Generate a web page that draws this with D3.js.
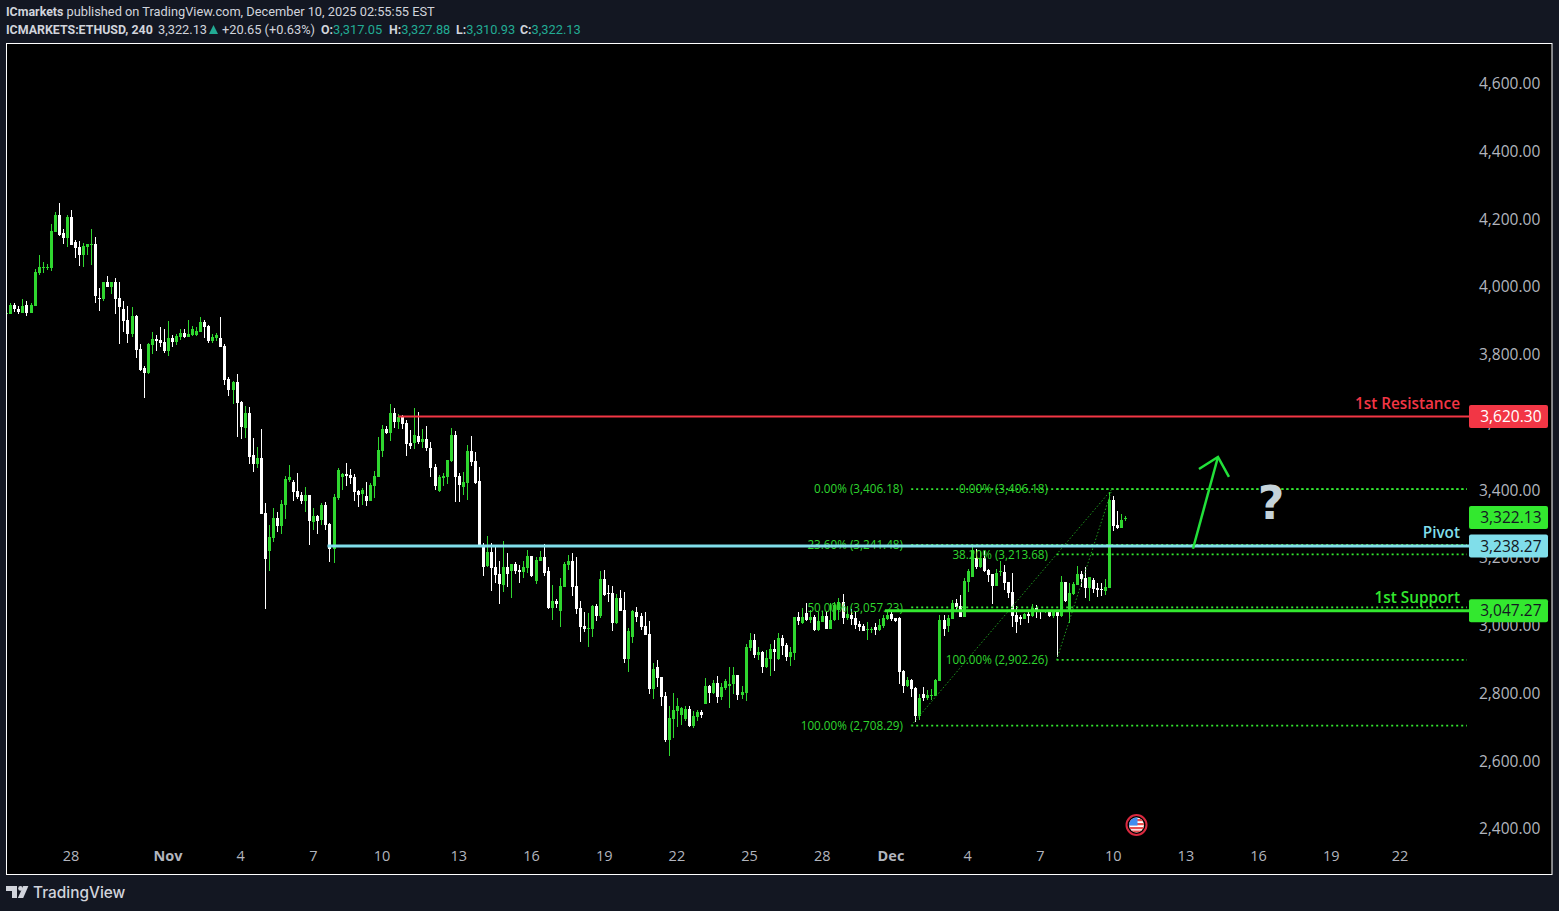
<!DOCTYPE html>
<html>
<head>
<meta charset="utf-8">
<script src="https://cdn.jsdelivr.net/npm/d3@7"></script>
<style>
  html, body { margin: 0; padding: 0; background: #131722; overflow: hidden; }
  svg { font-family: Roboto, "Noto Sans", sans-serif; }
</style>
</head>
<body>
<svg id="vis" width="1559" height="911"></svg>
<script>
// 4h ETHUSD bars
const firstBar = Date.UTC(2025, 9, 25, 8);
const barHours = 4;

const opens = [3925,
  3923,3949,3937,3926,3950,3926,3947,4044,4059,4059,
  4059,4165,4216,4162,4148,4210,4136,4121,4098,4121,
  4127,4130,3971,3968,4018,4003,4018,3971,3938,3906,
  3864,3917,3820,3764,3749,3832,3850,3847,3841,3814,
  3852,3841,3855,3867,3855,3861,3861,3870,3900,3888,
  3844,3852,3852,3829,3731,3699,3723,3664,3587,3631,
  3507,3481,3498,3336,3224,3262,3321,3298,3360,3433,
  3427,3401,3389,3371,3389,3309,3327,3315,3360,3303,
  3230,3380,3442,3451,3448,3442,3401,3392,3386,3371,
  3416,3442,3519,3584,3572,3631,3605,3619,3602,3543,
  3543,3563,3546,3554,3528,3472,3401,3439,3442,3489,
  3566,3445,3413,3424,3519,3489,3430,3239,3180,3221,
  3177,3156,3124,3177,3165,3186,3168,3162,3174,3209,
  3135,3194,3206,3165,3056,3076,3047,3118,3183,3194,
  3121,3056,3003,2994,2994,3062,3032,3141,3100,3100,
  3011,3085,3050,2905,2970,3044,3032,3003,2979,2817,
  2882,2852,2796,2666,2728,2752,2740,2728,2757,2707,
  2734,2749,2772,2825,2805,2834,2793,2819,2825,2831,
  2858,2799,2805,2938,2961,2917,2926,2882,2905,2935,
  2905,2967,2946,2911,2923,3029,3011,3041,3020,3029,
  2991,3014,3032,2994,3020,3050,3073,3026,3035,3026,
  3008,3003,2991,2991,2999,2991,3003,3023,3038,3026,
  3026,2870,2825,2843,2819,2737,2802,2790,2796,2796,
  2840,3020,3002,3023,3070,3061,3029,3132,3147,3203,
  3177,3203,3168,3156,3121,3162,3162,3132,3103,3035,
  3029,3023,3038,3032,3056,3047,3044,3044,3032,3047,
  3032,3132,3050,3097,3123,3156,3144,3115,3138,3115,
  3112,3106,3115,3374,3301,3292,3317];

const highs = [3926,
  3955,3955,3946,3968,3962,3956,4056,4098,4077,4071,
  4189,4224,4251,4174,4216,4230,4142,4139,4133,4130,
  4174,4151,4000,4018,4035,4018,4030,4018,3962,3947,
  3944,3920,3835,3770,3838,3870,3861,3885,3879,3903,
  3861,3864,3879,3879,3906,3888,3885,3914,3906,3891,
  3864,3867,3914,3835,3737,3726,3746,3667,3652,3649,
  3557,3531,3584,3365,3301,3351,3339,3374,3445,3478,
  3433,3454,3398,3413,3389,3351,3330,3365,3368,3306,
  3392,3469,3454,3484,3466,3451,3404,3410,3427,3424,
  3460,3560,3596,3593,3658,3646,3628,3625,3610,3581,
  3646,3634,3584,3593,3546,3481,3448,3454,3492,3587,
  3578,3454,3457,3537,3563,3516,3472,3248,3268,3248,
  3239,3194,3253,3218,3186,3191,3183,3194,3227,3209,
  3206,3224,3245,3177,3124,3082,3144,3191,3212,3218,
  3206,3076,3044,3041,3065,3068,3165,3168,3124,3121,
  3097,3109,3103,2997,3050,3059,3041,3044,3017,2893,
  2902,2852,2808,2766,2805,2790,2763,2766,2766,2752,
  2755,2755,2849,2828,2843,2855,2834,2846,2881,2881,
  2858,2825,2949,2982,2979,2941,2929,2932,2949,2961,
  2982,2976,2952,2941,3029,3044,3056,3070,3050,3035,
  3044,3047,3047,3070,3073,3085,3097,3062,3053,3044,
  3017,3008,3014,2999,3011,3023,3035,3044,3044,3026,
  3029,2873,2852,2846,2822,2802,2822,2814,2817,2846,
  3035,3035,3035,3079,3082,3094,3144,3171,3241,3230,
  3224,3224,3171,3156,3171,3194,3182,3132,3159,3061,
  3035,3041,3047,3067,3064,3050,3050,3050,3050,3047,
  3150,3132,3129,3132,3180,3165,3177,3147,3144,3129,
  3129,3141,3398,3386,3342,3333,3328];

const lows = [3924,
  3923,3928,3923,3925,3917,3926,3947,4038,4044,4053,
  4050,4165,4154,4130,4121,4127,4089,4065,4062,4098,
  4068,3956,3932,3962,4003,3982,3923,3835,3870,3838,
  3855,3793,3755,3675,3746,3805,3814,3826,3808,3799,
  3826,3832,3847,3852,3855,3858,3858,3870,3852,3838,
  3838,3844,3826,3714,3681,3658,3560,3554,3557,3481,
  3457,3469,3333,3053,3165,3250,3280,3274,3318,3427,
  3371,3377,3362,3339,3242,3286,3274,3301,3286,3191,
  3188,3374,3404,3416,3422,3371,3354,3360,3357,3371,
  3380,3442,3501,3569,3548,3587,3584,3584,3504,3525,
  3525,3540,3528,3519,3442,3404,3398,3416,3422,3486,
  3368,3368,3389,3374,3475,3422,3236,3150,3177,3106,
  3129,3067,3103,3118,3085,3156,3129,3144,3159,3147,
  3126,3194,3150,3053,3020,3056,2999,3118,3168,3091,
  3038,2955,2985,2941,2970,3017,3026,3091,3073,2988,
  3008,3047,2893,2867,2952,3014,2991,2976,2802,2787,
  2822,2766,2660,2619,2672,2704,2710,2722,2704,2701,
  2722,2731,2772,2775,2802,2775,2784,2814,2760,2802,
  2784,2787,2781,2929,2908,2902,2864,2879,2855,2870,
  2902,2917,2899,2884,2902,3005,3008,3017,3011,2988,
  2988,3014,2994,2994,3016,3020,3008,3020,3005,2994,
  2988,2988,2961,2982,2976,2988,2997,3020,3017,3014,
  2831,2805,2822,2793,2719,2725,2781,2784,2784,2796,
  2840,2973,2985,3023,3044,3029,3029,3103,3147,3171,
  3174,3162,3132,3067,3121,3150,3109,3085,2999,2982,
  3005,3023,3011,3029,3026,3023,3041,3029,3026,2911,
  3029,3073,3011,3094,3123,3118,3085,3076,3100,3088,
  3091,3094,3115,3283,3289,3292,3311];

const closes = [3925,
  3950,3937,3929,3947,3925,3950,4047,4062,4062,4062,
  4168,4216,4157,4148,4210,4127,4118,4098,4124,4130,
  4130,3976,3968,4018,4003,4018,3968,3944,3903,3864,
  3917,3817,3758,3749,3835,3850,3844,3838,3814,3852,
  3841,3858,3867,3855,3864,3879,3873,3900,3885,3844,
  3855,3861,3826,3728,3699,3723,3661,3590,3631,3501,
  3481,3498,3333,3200,3265,3321,3298,3362,3436,3442,
  3398,3383,3371,3389,3312,3327,3312,3360,3301,3230,
  3383,3463,3451,3445,3439,3398,3389,3404,3371,3419,
  3445,3522,3584,3572,3631,3605,3619,3599,3540,3534,
  3566,3546,3554,3528,3469,3416,3442,3445,3492,3566,
  3442,3419,3427,3519,3487,3424,3239,3177,3221,3174,
  3153,3126,3177,3156,3186,3165,3162,3177,3209,3150,
  3197,3206,3159,3056,3076,3067,3121,3186,3194,3118,
  3053,2999,2994,2997,3062,3032,3141,3094,3097,3011,
  3085,3047,2905,2988,3047,3029,2999,2976,2817,2876,
  2849,2793,2666,2731,2755,2766,2760,2757,2707,2737,
  2749,2740,2825,2805,2834,2793,2822,2840,2831,2858,
  2799,2808,2940,2961,2917,2926,2882,2908,2935,2926,
  2967,2943,2911,2926,3029,3017,3029,3020,3029,2991,
  3017,3032,2994,3020,3065,3073,3026,3038,3023,3005,
  2999,2988,2994,2994,2991,3005,3026,3035,3023,3017,
  2867,2825,2843,2817,2737,2790,2790,2799,2799,2843,
  3020,2994,3026,3070,3058,3029,3135,3165,3227,3177,
  3203,3165,3153,3121,3159,3165,3129,3100,3032,3014,
  3023,3038,3032,3056,3044,3044,3047,3032,3044,3032,
  3132,3076,3100,3126,3156,3141,3115,3147,3112,3109,
  3109,3118,3374,3298,3292,3315,3322];

const priceTicks = [2400,2600,2800,3000,3200,3400,3600,3800,4000,4200,4400,4600];
const timeTickDates = ['2025-10-28','2025-11-01','2025-11-04','2025-11-07','2025-11-09T20:00','2025-11-13','2025-11-16','2025-11-19','2025-11-22','2025-11-25','2025-11-28','2025-11-30T20:00','2025-12-04','2025-12-07','2025-12-10','2025-12-13','2025-12-16','2025-12-19','2025-12-21T20:00'];
const timeTickLabels = ['28','Nov','4','7','10','13','16','19','22','25','28','Dec','4','7','10','13','16','19','22'];

const levelNames = ['1st Resistance','Pivot','1st Support'];
const levelPrices = [3620.30,3238.27,3047.27];
const levelStarts = ['2025-11-10T12:00','2025-11-07T14:00','2025-11-30T14:00'];
const levelColors = ['#f23645','#80deea','#33e82f'];

const fibLabels = ['0.00%','23.60%','50.00%','100.00%','0.00%','38.20%','100.00%'];
const fibPrices = [3406.18,3241.48,3057.23,2708.29,3406.18,3213.68,2902.26];
const fibStarts = ['2025-12-01T16:00','2025-12-01T16:00','2025-12-01T16:00','2025-12-01T16:00','2025-12-07T16:00','2025-12-07T16:00','2025-12-07T16:00'];

const arrowDates = ['2025-12-13T07:00','2025-12-14T07:45'];
const arrowPrices = [3230,3501];

const green = '#2fd62f';
const fibGreen = '#33e82f';
const parseDate = d => new Date(d.length > 10 ? d + ':00Z' : d + 'T00:00:00Z');
const fmt = d3.format(',.2f');

const dates = opens.map((d, i) => d3.utcHour.offset(new Date(firstBar), i * barHours));
const bars = opens.map((o, i) => ({date: dates[i], o, h: highs[i], l: lows[i], c: closes[i]}));

const x = d3.scaleUtc().domain([dates[0], dates[dates.length - 1]]).range([6.3, 1125.3]);
const y = d3.scaleLinear().domain([2400, 4600]).range([830, 84.6]);

const vis = d3.select('#vis');
const paneRight = 1552, paneLeft = 6.5, paneTop = 43.5, paneBottom = 874.5;

// header
const head = vis.append('g').attr('fill', '#d1d4dc').attr('font-size', 12.8);
const row1 = head.append('text').attr('x', 6).attr('y', 16);
row1.append('tspan').attr('font-weight', 700).attr('font-size', 12.4).text('ICmarkets');
row1.append('tspan').text(' published on TradingView.com, December 10, 2025 02:55:55 EST');
head.append('text').attr('x', 6).attr('y', 34).attr('font-weight', 700).attr('font-size', 12.4).text('ICMARKETS:ETHUSD, 240');
head.append('text').attr('x', 158).attr('y', 34).text('3,322.13');
head.append('path').attr('d', 'M209 34 L218 34 L213.5 25 Z').attr('fill', '#22ab94');
head.append('text').attr('x', 222).attr('y', 34).text('+20.65 (+0.63%)');
[['O:', '3,317.05', 321], ['H:', '3,327.88', 389], ['L:', '3,310.93', 456], ['C:', '3,322.13', 520]].forEach(d => {
  const t = head.append('text').attr('x', d[2]).attr('y', 34);
  t.append('tspan').attr('font-weight', 700).attr('font-size', 12.4).text(d[0]);
  t.append('tspan').attr('fill', '#22ab94').text(d[1]);
});

// pane
vis.append('rect').attr('x', paneLeft).attr('y', paneTop)
  .attr('width', paneRight - paneLeft).attr('height', paneBottom - paneTop)
  .attr('fill', '#000').attr('stroke', '#fff').attr('stroke-width', 1);
vis.append('clipPath').attr('id', 'paneClip').append('rect')
  .attr('x', 7).attr('y', 44).attr('width', paneRight - 7).attr('height', 830);

// axes
const yAxis = vis.append('g').attr('transform', 'translate(1477,-1)')
  .call(d3.axisRight(y).tickValues(priceTicks).tickFormat(fmt).tickSize(0).tickPadding(2));
yAxis.select('.domain').remove();
yAxis.selectAll('text').attr('fill', '#b2b5be').attr('font-size', 15.5).attr('font-family', '"Open Sans"');

const xAxis = vis.append('g').attr('transform', 'translate(-0.5,851)')
  .call(d3.axisBottom(x).tickValues(timeTickDates.map(parseDate)).tickFormat((d, i) => timeTickLabels[i]).tickSize(0).tickPadding(0));
xAxis.select('.domain').remove();
xAxis.selectAll('text').attr('fill', '#b2b5be').attr('font-size', 14.5).attr('font-family', '"Open Sans"')
  .attr('font-weight', (d, i) => timeTickLabels[i] === 'Nov' || timeTickLabels[i] === 'Dec' ? 700 : 400);

// candles
const candles = vis.append('g').attr('clip-path', 'url(#paneClip)').attr('shape-rendering', 'crispEdges');
const barColor = d => d.c >= d.o ? green : '#fff';
candles.selectAll('rect.wick').data(bars).enter().append('rect').classed('wick', true)
  .attr('x', d => Math.round(x(d.date)))
  .attr('y', d => y(d.h))
  .attr('width', 1)
  .attr('height', d => y(d.l) - y(d.h))
  .attr('fill', barColor);
candles.selectAll('rect.body').data(bars).enter().append('rect').classed('body', true)
  .attr('x', d => Math.round(x(d.date)) - 1)
  .attr('y', d => y(Math.max(d.o, d.c)))
  .attr('width', 3)
  .attr('height', d => Math.max(1, Math.abs(y(d.o) - y(d.c))))
  .attr('fill', barColor);

// fib drawings
vis.append('g').selectAll('line').data(fibPrices).enter().append('line')
  .attr('x1', (d, i) => x(parseDate(fibStarts[i])))
  .attr('x2', 1467)
  .attr('y1', d => y(d)).attr('y2', d => y(d))
  .attr('stroke', fibGreen).attr('stroke-width', 1.8).attr('stroke-dasharray', '2 3');

const diagonals = [
  [fibPrices[3], fibStarts[3], fibPrices[0]],
  [fibPrices[6], fibStarts[6], fibPrices[4]]
];
vis.append('g').selectAll('line').data(diagonals).enter().append('line')
  .attr('x1', d => x(parseDate(d[1])))
  .attr('y1', d => y(d[0]))
  .attr('x2', 1112)
  .attr('y2', d => y(d[2]))
  .attr('stroke', '#1f9a1f').attr('stroke-width', 1).attr('stroke-dasharray', '1.5 2');

vis.append('g').selectAll('text').data(fibPrices).enter().append('text')
  .attr('x', (d, i) => i < 4 ? 903 : 1048)
  .attr('y', d => y(d))
  .attr('dy', '.36em')
  .attr('text-anchor', 'end')
  .attr('fill', '#2fd62f')
  .attr('font-size', 11.7)
  .attr('font-family', '"Open Sans"')
  .text((d, i) => `${fibLabels[i]} (${fmt(d)})`);

// support / resistance lines
const levels = vis.append('g');
levels.selectAll('line').data(levelPrices).enter().append('line')
  .attr('x1', (d, i) => x(parseDate(levelStarts[i])))
  .attr('x2', 1469)
  .attr('y1', d => y(d)).attr('y2', d => y(d))
  .attr('stroke', (d, i) => levelColors[i])
  .attr('stroke-width', (d, i) => i === 0 ? 2 : 3);
levels.selectAll('text').data(levelPrices).enter().append('text')
  .attr('x', 1460)
  .attr('y', d => y(d) - 13)
  .attr('dy', '.36em')
  .attr('text-anchor', 'end')
  .attr('fill', (d, i) => levelColors[i])
  .attr('font-size', 15.3)
  .attr('font-weight', 600)
  .attr('font-family', '"Open Sans"')
  .text((d, i) => levelNames[i]);

// price tags
const tagPrices = [levelPrices[0], closes[closes.length - 1] + 0.13, levelPrices[1], levelPrices[2]];
const tagFills = [levelColors[0], '#33e82f', levelColors[1], levelColors[2]];
const tagText = ['#fff', '#131722', '#131722', '#131722'];
const tags = vis.append('g').selectAll('g').data(tagPrices).enter().append('g')
  .attr('transform', d => `translate(1469,${y(d)})`);
tags.append('rect').attr('y', -11.5).attr('width', 79).attr('height', 23).attr('rx', 2)
  .attr('fill', (d, i) => tagFills[i]);
tags.append('text').attr('x', 72.5).attr('dy', '.36em').attr('text-anchor', 'end')
  .attr('font-size', 15.5).attr('font-family', '"Open Sans"')
  .attr('fill', (d, i) => tagText[i]).text(d => fmt(d));

// projected move
const arrowColor = '#22e03a';
const arrowLine = d3.line().x(d => x(parseDate(d[0]))).y(d => y(d[1]));
const arrow = vis.append('g').attr('fill', 'none').attr('stroke', arrowColor).attr('stroke-width', 2.5);
const tipX = x(parseDate(arrowDates[1])), tipY = y(arrowPrices[1]);
arrow.append('path').attr('d', arrowLine(arrowDates.map((d, i) => [d, arrowPrices[i]])));
arrow.append('path').attr('d', `M${tipX - 19},${tipY + 12} L${tipX},${tipY} L${tipX + 11},${tipY + 20}`);

vis.append('text').attr('x', 1271).attr('y', 519).attr('text-anchor', 'middle')
  .attr('font-family', '"DejaVu Sans"').attr('font-weight', 700).attr('font-size', 46)
  .attr('fill', '#c5d3da').text('?');

// event flag
const flag = vis.append('g').attr('transform', 'translate(1136.5,825)');
flag.append('clipPath').attr('id', 'flagClip').append('circle').attr('r', 7.5);
flag.append('circle').attr('r', 10).attr('fill', '#000').attr('stroke', '#d9293f').attr('stroke-width', 2);
const flagBody = flag.append('g').attr('clip-path', 'url(#flagClip)');
flagBody.append('rect').attr('x', -8).attr('y', -8).attr('width', 16).attr('height', 16).attr('fill', '#fff');
[-6, -2, 2, 5.5].forEach(s => flagBody.append('rect').attr('x', -8).attr('y', s).attr('width', 16).attr('height', 2.2).attr('fill', '#e8504f'));
flagBody.append('rect').attr('x', -8).attr('y', -8).attr('width', 9).attr('height', 8.5).attr('fill', '#3f8df0');

// footer logo
const logo = vis.append('g').attr('fill', '#d1d4dc');
logo.append('path').attr('d', 'M6 886 H17 V898 H12 V891 H6 Z');
logo.append('circle').attr('cx', 20.5).attr('cy', 888.4).attr('r', 2.3);
logo.append('path').attr('d', 'M23.2 886 H28.4 L23.2 898 H17.9 Z');
logo.append('text').attr('x', 33).attr('y', 898).attr('font-size', 15.4).attr('font-weight', 500)
  .attr('font-family', 'Inter').text('TradingView');
</script>
</body>
</html>
